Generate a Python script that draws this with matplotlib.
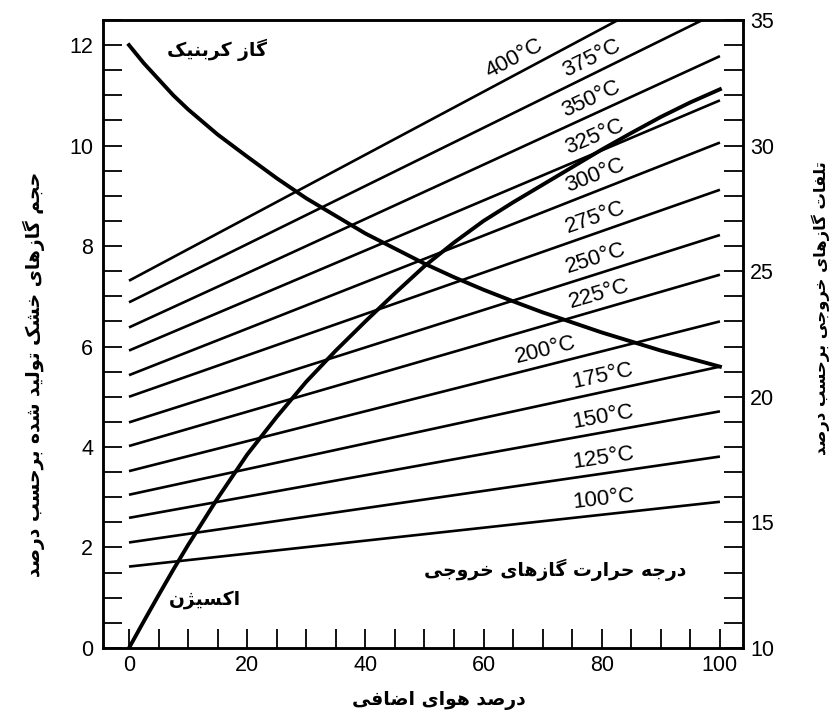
import matplotlib
matplotlib.use("Agg")
import matplotlib.pyplot as plt
import numpy as np
from matplotlib.ticker import MultipleLocator

'''
شکل ساده سازی شده: تلفات گازهای خروجی و درصد گاز کربنیک / اکسیژن
'''

# درصد هوای اضافی
excess_air = [0, 2.5, 5, 7.5, 10, 15, 20, 25, 30, 35, 40, 45, 50, 55, 60, 65, 70, 75, 80, 85, 90, 95, 100]
# گاز کربنیک (left axis, %)
co2 = [12.0, 11.64, 11.32, 11.0, 10.72, 10.22, 9.78, 9.35, 8.95, 8.6, 8.25, 7.95, 7.65,
       7.38, 7.13, 6.9, 6.68, 6.48, 6.28, 6.1, 5.92, 5.76, 5.6]
# اکسیژن (left axis, %)
o2 = [0.0, 0.53, 1.05, 1.56, 2.05, 2.98, 3.85, 4.6, 5.3, 5.92, 6.5, 7.06, 7.6,
      8.07, 8.5, 8.87, 9.22, 9.57, 9.92, 10.25, 10.57, 10.86, 11.12]

# flue gas temperature lines (right axis, loss %), at 0% and 100% excess air
temps = [100, 125, 150, 175, 200, 225, 250, 275, 300, 325, 350, 375, 400]
loss_at_0 = [13.24, 14.2, 15.18, 16.1, 17.04, 18.04, 18.98, 20.0, 20.86, 21.84, 22.76, 23.76, 24.62]
loss_at_100 = [15.82, 17.62, 19.42, 21.2, 23.0, 24.86, 26.44, 28.24, 30.12, 31.8, 33.56, 35.34, 37.16]
line_x = [0, 100]

# --- a tiny arabic/persian shaper (matplotlib has no text shaping) ---
FORMS = {
    'ا': ('\uFE8D', '\uFE8E', None, None),
    'ب': ('\uFE8F', '\uFE90', '\uFE91', '\uFE92'),
    'ت': ('\uFE95', '\uFE96', '\uFE97', '\uFE98'),
    'ج': ('\uFE9D', '\uFE9E', '\uFE9F', '\uFEA0'),
    'ح': ('\uFEA1', '\uFEA2', '\uFEA3', '\uFEA4'),
    'خ': ('\uFEA5', '\uFEA6', '\uFEA7', '\uFEA8'),
    'د': ('\uFEA9', '\uFEAA', None, None),
    'ر': ('\uFEAD', '\uFEAE', None, None),
    'ز': ('\uFEAF', '\uFEB0', None, None),
    'ژ': ('\uFB8A', '\uFB8B', None, None),
    'س': ('\uFEB1', '\uFEB2', '\uFEB3', '\uFEB4'),
    'ش': ('\uFEB5', '\uFEB6', '\uFEB7', '\uFEB8'),
    'ص': ('\uFEB9', '\uFEBA', '\uFEBB', '\uFEBC'),
    'ض': ('\uFEBD', '\uFEBE', '\uFEBF', '\uFEC0'),
    'ف': ('\uFED1', '\uFED2', '\uFED3', '\uFED4'),
    'ک': ('\uFB8E', '\uFB8F', '\uFB90', '\uFB91'),
    'گ': ('\uFB92', '\uFB93', '\uFB94', '\uFB95'),
    'ل': ('\uFEDD', '\uFEDE', '\uFEDF', '\uFEE0'),
    'م': ('\uFEE1', '\uFEE2', '\uFEE3', '\uFEE4'),
    'ن': ('\uFEE5', '\uFEE6', '\uFEE7', '\uFEE8'),
    'و': ('\uFEED', '\uFEEE', None, None),
    'ه': ('\uFEE9', '\uFEEA', '\uFEEB', '\uFEEC'),
    'ی': ('\uFBFC', '\uFBFD', '\uFBFE', '\uFBFF'),
}


def fa(txt):
    out = []
    for i, ch in enumerate(txt):
        if ch not in FORMS:
            out.append(ch)
            continue
        prev = txt[i - 1] if i > 0 else ''
        nxt = txt[i + 1] if i + 1 < len(txt) else ''
        p = prev in FORMS and FORMS[prev][2] is not None
        n = nxt in FORMS and FORMS[ch][2] is not None
        iso, fin, ini, med = FORMS[ch]
        if p and n:
            out.append(med)
        elif p:
            out.append(fin)
        elif n:
            out.append(ini)
        else:
            out.append(iso)
    return ''.join(out)[::-1]


FA_FONT = dict(family=['DejaVu Sans'], fontweight='bold')
FA_SIZE = 13.5
plt.rcParams['font.family'] = ['Liberation Sans', 'DejaVu Sans']

fig = plt.figure(figsize=(8.32, 7.13), dpi=100)
ax = fig.add_axes([0.1238, 0.0912, 0.7692, 0.8808])
ax2 = ax.twinx()

ax.set_xlim(-4.4, 103.9)
ax.set_ylim(0, 12.5)
ax2.set_ylim(10, 35)

for T, a, b in zip(temps, loss_at_0, loss_at_100):
    ax2.plot(line_x, [a, b], color='black', lw=1.9, solid_capstyle='butt')

ax.plot(excess_air, co2, color='black', lw=2.8)
ax.plot(excess_air, o2, color='black', lw=2.8)

# temperature labels, sitting on their lines
label_x = [80.5, 80.5, 80.5, 80.5, 71, 80, 79.6, 79.5, 79.5, 79.5, 79, 79, 66]
for T, a, b, lx in zip(temps, loss_at_0, loss_at_100, label_x):
    slope = (b - a) / 100.0
    ly = a + slope * lx + 0.2
    ang = np.degrees(np.arctan(slope))
    ax2.text(lx, ly, '%d°C' % T, fontsize=16, ha='center', va='bottom',
             rotation=ang, rotation_mode='anchor', transform_rotates_text=True)

ax.text(14.9, 11.9, fa('گاز کربنیک'), fontsize=FA_SIZE, ha='center', va='center', **FA_FONT)
ax.text(12.9, 0.96, fa('اکسیژن'), fontsize=FA_SIZE, ha='center', va='center', **FA_FONT)
ax.text(72.1, 1.56, fa('درجه حرارت گازهای خروجی'), fontsize=FA_SIZE, ha='center', va='center', **FA_FONT)

ax.set_xlabel(fa('درصد هوای اضافی'), fontsize=FA_SIZE, va='center', **FA_FONT)
ax.xaxis.set_label_coords(0.525, -0.084)
ax.set_ylabel(fa('حجم گازهای خشک تولید شده برحسب درصد'), fontsize=FA_SIZE, rotation=90, **FA_FONT)
ax.yaxis.label.set_va('center')
ax.yaxis.set_label_coords(-0.108, 0.436)
ax2.set_ylabel(fa('تلفات گازهای خروجی برحسب درصد'), fontsize=11.8, rotation=90, **FA_FONT)
ax2.yaxis.label.set_va('center')
ax2.yaxis.set_label_coords(1.121, 0.541)

ax.xaxis.set_major_locator(MultipleLocator(20))
ax.xaxis.set_minor_locator(MultipleLocator(5))
ax.yaxis.set_major_locator(MultipleLocator(2))
ax.yaxis.set_minor_locator(MultipleLocator(0.5))
ax2.yaxis.set_major_locator(MultipleLocator(5))
ax2.yaxis.set_minor_locator(MultipleLocator(1))

ax.tick_params(which='both', direction='in', length=14, width=1.3, top=False, right=False)
ax.tick_params(axis='x', which='major', labelsize=15.5, pad=5)
ax.tick_params(axis='y', which='major', labelsize=15.5, pad=7)
ax2.tick_params(which='both', direction='in', length=14, width=1.3, labelsize=15.5, pad=5)

for a_ in (ax, ax2):
    for s in a_.spines.values():
        s.set_linewidth(1.8)

fig.savefig('out.png', dpi=100)
